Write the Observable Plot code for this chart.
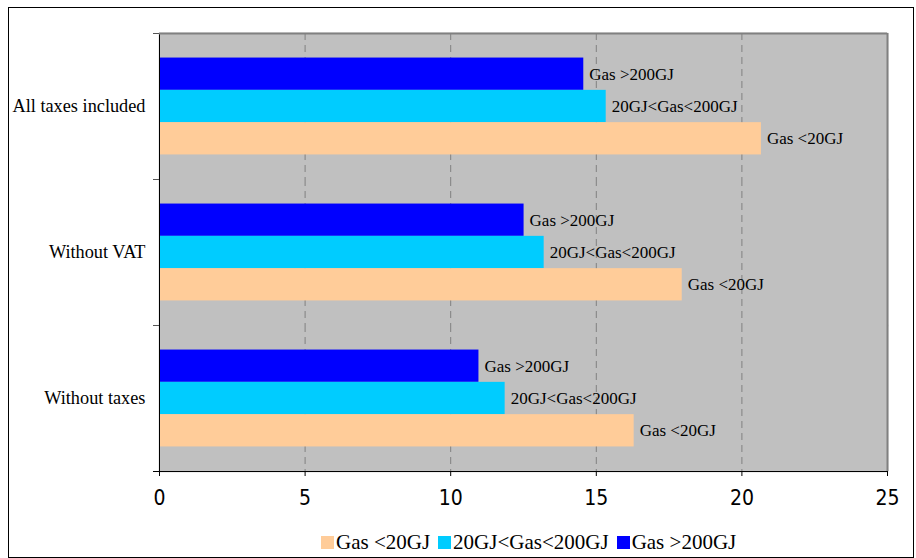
<!DOCTYPE html>
<html><head><meta charset="utf-8">
<script src="https://cdn.jsdelivr.net/npm/d3@7"></script>
<script src="https://cdn.jsdelivr.net/npm/@observablehq/plot@0.6"></script>
<style>
body{margin:0;background:#fff;}
#wrap{position:relative;width:916px;height:558px;overflow:hidden;background:#fff;}
#chart{position:absolute;left:0;top:0;}
#border{position:absolute;left:8px;top:7px;width:906px;height:551px;border:1px solid #000;box-sizing:border-box;pointer-events:none;}
#legend{position:absolute;left:321px;top:528px;height:28px;display:flex;align-items:center;font-family:"Liberation Serif","Times New Roman",serif;font-size:21px;color:#000;white-space:nowrap;}
#legend .sw{display:inline-block;width:13px;height:13px;margin-right:2px;}
#legend .it{display:flex;align-items:center;margin-right:8px;}
</style>
</head><body>
<div id="wrap"><div id="chart"></div><div id="legend"></div><div id="border"></div></div>
<script>
const groups = ["All taxes included", "Without VAT", "Without taxes"];
const series = ["Gas >200GJ", "20GJ<Gas<200GJ", "Gas <20GJ"];
const colors = ["#0000FF", "#00CCFF", "#FFCC99"];
const gasOver200 = [14.57, 12.52, 10.97];
const gas20to200 = [15.34, 13.21, 11.87];
const gasUnder20 = [20.67, 17.95, 16.30];
const xTicks = [0, 5, 10, 15, 20, 25];
const legendOrder = ["Gas <20GJ", "20GJ<Gas<200GJ", "Gas >200GJ"];

const values = [gasOver200, gas20to200, gasUnder20];
const rows = [];
groups.forEach((g, gi) => series.forEach((s, si) => rows.push({group: g, series: s, value: values[si][gi]})));

const W = 916, H = 525, mt = 33, mb = 54, ml = 159, mr = 29;
const facetH = (H - mt - mb) / groups.length;
const step = 32.3;
const pOuter = (facetH / step - series.length) / 2;
const half = pOuter * step + step / 2;
const serif = "Liberation Serif, Times New Roman, serif";
const narrow = "Liberation Sans Narrow, Arial Narrow, DejaVu Sans Condensed, sans-serif";

const chart = Plot.plot({
  width: W, height: H, marginTop: mt, marginBottom: mb, marginLeft: ml, marginRight: mr,
  style: {background: "transparent", overflow: "visible"},
  x: {domain: [0, 25], label: null},
  y: {domain: series, paddingInner: 0, paddingOuter: pOuter, axis: null, round: false},
  fy: {domain: groups, padding: 0, label: null, round: false},
  color: {domain: series, range: colors},
  marks: [
    Plot.frame({fill: "#c0c0c0", stroke: "#c0c0c0", strokeWidth: 1.5}),
    Plot.ruleX(xTicks.slice(1, -1), {stroke: "#808080", strokeDasharray: "7,5"}),
    Plot.barX(rows, {x: "value", y: "series", fy: "group", fill: "series"}),
    Plot.text(rows, {x: "value", y: "series", fy: "group", text: "series", dx: 5.5, textAnchor: "start",
      fontSize: 17, fontFamily: serif, fill: "#000"}),
    Plot.ruleX([0], {stroke: "#000"}),
    Plot.ruleX([25], {stroke: "#808080", strokeWidth: 2}),
    Plot.ruleY([{g: groups[0], s: series[0]}], {fy: "g", y: "s", dy: -half, stroke: "#808080", strokeWidth: 2}),
    Plot.ruleY([{g: groups[2], s: series[0]}], {fy: "g", y: "s", dy: facetH - half, stroke: "#000", insetLeft: -6}),
    Plot.axisFy({anchor: "left", tickSize: 0, tickPadding: 14, fontSize: 18.3, fontFamily: serif, fill: "#000", label: null}),
    Plot.axisFy({anchor: "left", tickSize: 6, tickFormat: () => "", dy: -facetH / 2, stroke: "#555", label: null}),
    Plot.axisX({anchor: "bottom", ticks: xTicks, tickSize: 5, tickPadding: 14, fontSize: 21, fontFamily: narrow, fill: "#000", label: null})
  ]
});
document.getElementById("chart").appendChild(chart);

const leg = document.getElementById("legend");
legendOrder.forEach(name => {
  const it = document.createElement("span");
  it.className = "it";
  const sw = document.createElement("span");
  sw.className = "sw";
  sw.style.background = colors[series.indexOf(name)];
  const tx = document.createElement("span");
  tx.textContent = name;
  it.appendChild(sw); it.appendChild(tx);
  leg.appendChild(it);
});
</script>
</body></html>
